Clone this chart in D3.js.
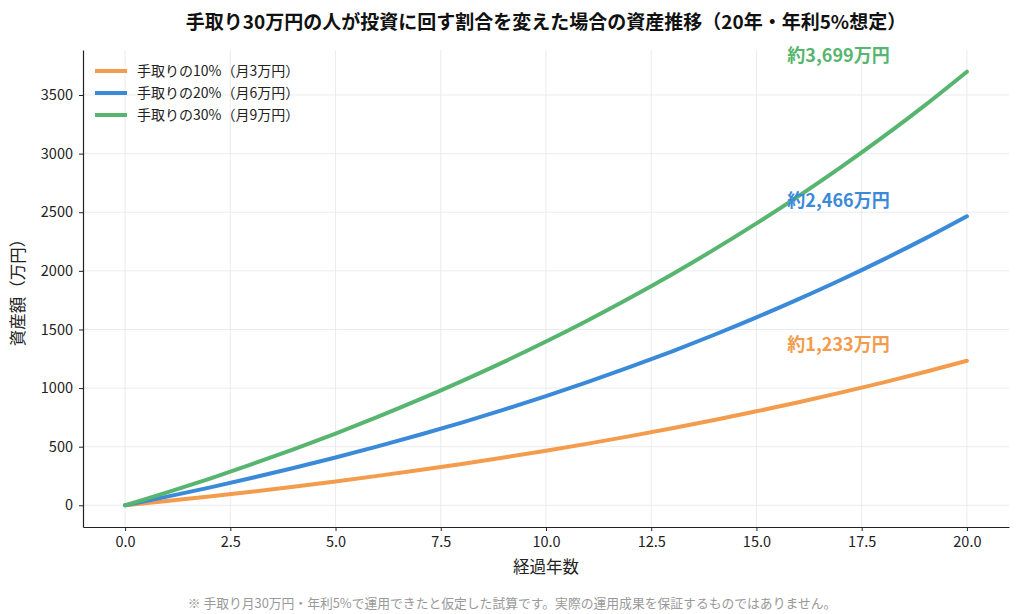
<!DOCTYPE html>
<html>
<head>
<meta charset="utf-8">
<script src="https://cdn.jsdelivr.net/npm/d3@7"></script>
<style>
body { margin: 0; background: #fff; }
text { font-family: "Noto Sans CJK JP", "Noto Sans", sans-serif; }
</style>
</head>
<body>
<div id="chart"></div>
<script>

var years = d3.range(0, 21, 1);

// 資産額（万円）、各年末
var series10 = [0, 37, 75, 116, 159, 204, 251, 301, 353, 408, 466, 526, 590, 657, 728, 802, 879, 961, 1047, 1137, 1233];
var series20 = [0, 74, 151, 233, 318, 408, 503, 602, 706, 816, 932, 1053, 1180, 1314, 1455, 1603, 1759, 1922, 2094, 2275, 2466];
var series30 = [0, 110, 226, 349, 477, 612, 754, 903, 1060, 1224, 1397, 1579, 1770, 1971, 2183, 2405, 2638, 2883, 3141, 3412, 3699];

var seriesNames = ["手取りの10%（月3万円）", "手取りの20%（月6万円）", "手取りの30%（月9万円）"];
var seriesColors = ["#f39c4d", "#3b8ad9", "#57b56f"];
var endLabels = ["約1,233万円", "約2,466万円", "約3,699万円"];

var xTicks = [0, 2.5, 5, 7.5, 10, 12.5, 15, 17.5, 20];
var yTicks = [0, 500, 1000, 1500, 2000, 2500, 3000, 3500];

var allSeries = [series10, series20, series30];

var width = 1024, height = 614;
var margin = {left: 83, right: 15, top: 50, bottom: 87};

var svg = d3.select("#chart").append("svg")
			.attr("width", width)
			.attr("height", height);

var x = d3.scaleLinear().domain([-1, 21]).range([margin.left, width - margin.right]);
var y = d3.scaleLinear().domain([-185, 3884]).range([height - margin.bottom, margin.top]);

// grid
svg.append("g").selectAll("line")
	.data(xTicks).enter().append("line")
	.attr("x1", function(d) {return x(d);})
	.attr("x2", function(d) {return x(d);})
	.attr("y1", y.range()[0])
	.attr("y2", y.range()[1])
	.attr("stroke", "#e6e6e6").attr("stroke-width", 0.8);

svg.append("g").selectAll("line")
	.data(yTicks).enter().append("line")
	.attr("x1", x.range()[0])
	.attr("x2", x.range()[1])
	.attr("y1", function(d) {return y(d);})
	.attr("y2", function(d) {return y(d);})
	.attr("stroke", "#e6e6e6").attr("stroke-width", 0.8);

// axes
var xAxis = svg.append("g")
	.attr("transform", "translate(0," + y.range()[0] + ")")
	.call(d3.axisBottom(x).tickValues(xTicks).tickFormat(d3.format(".1f"))
		.tickSize(4).tickSizeOuter(0).tickPadding(6));
var yAxis = svg.append("g")
	.attr("transform", "translate(" + x.range()[0] + ",0)")
	.call(d3.axisLeft(y).tickValues(yTicks).tickFormat(d3.format("d"))
		.tickSize(4).tickSizeOuter(0).tickPadding(6));

[xAxis, yAxis].forEach(function(a) {
	a.selectAll("text").attr("font-size", 14.5).attr("fill", "#222")
		.style("font-family", "'Noto Sans CJK JP', sans-serif");
	a.selectAll("line").attr("stroke", "#222");
	a.select(".domain").attr("stroke", "#222").attr("stroke-width", 1.2);
});

// lines
var line = d3.line()
	.x(function(d, i) {return x(years[i]);})
	.y(function(d) {return y(d);})
	.curve(d3.curveMonotoneX);

svg.append("g").selectAll("path")
	.data(allSeries).enter().append("path")
	.attr("d", function(d) {return line(d);})
	.attr("fill", "none")
	.attr("stroke", function(d, i) {return seriesColors[i];})
	.attr("stroke-width", 4)
	.attr("stroke-linecap", "round");

// end labels
svg.append("g").selectAll("text")
	.data(allSeries).enter().append("text")
	.attr("x", x(16.95))
	.attr("y", function(d) {return y(d[d.length - 1] + 135);})
	.attr("dy", "0.35em")
	.attr("text-anchor", "middle")
	.attr("font-size", 18)
	.attr("font-weight", "bold")
	.attr("fill", function(d, i) {return seriesColors[i];})
	.text(function(d, i) {return endLabels[i];});

// legend
var legend = svg.append("g").attr("transform", "translate(95,71)");
var items = legend.selectAll("g")
	.data(seriesNames).enter().append("g")
	.attr("transform", function(d, i) {return "translate(0," + (i * 22) + ")";});
items.append("line")
	.attr("x1", 0).attr("x2", 32)
	.attr("stroke", function(d, i) {return seriesColors[i];})
	.attr("stroke-width", 4);
items.append("text")
	.attr("x", 42).attr("dy", "0.35em")
	.attr("font-size", 14).attr("fill", "#222")
	.text(function(d) {return d;});

// titles
svg.append("text")
	.attr("x", (margin.left + width - margin.right) / 2).attr("y", 29)
	.attr("text-anchor", "middle")
	.attr("font-size", 19).attr("font-weight", "bold").attr("fill", "#111")
	.text("手取り30万円の人が投資に回す割合を変えた場合の資産推移（20年・年利5%想定）");

svg.append("text")
	.attr("x", (margin.left + width - margin.right) / 2).attr("y", 573)
	.attr("text-anchor", "middle")
	.attr("font-size", 16.5).attr("fill", "#222")
	.text("経過年数");

svg.append("text")
	.attr("transform", "translate(24," + ((margin.top + height - margin.bottom) / 2) + ") rotate(-90)")
	.attr("text-anchor", "middle")
	.attr("font-size", 16.5).attr("fill", "#222")
	.text("資産額（万円）");

svg.append("text")
	.attr("x", width / 2).attr("y", 608)
	.attr("text-anchor", "middle")
	.attr("font-size", 12.8).attr("fill", "#999")
	.text("※ 手取り月30万円・年利5%で運用できたと仮定した試算です。実際の運用成果を保証するものではありません。");

</script>
</body>
</html>
